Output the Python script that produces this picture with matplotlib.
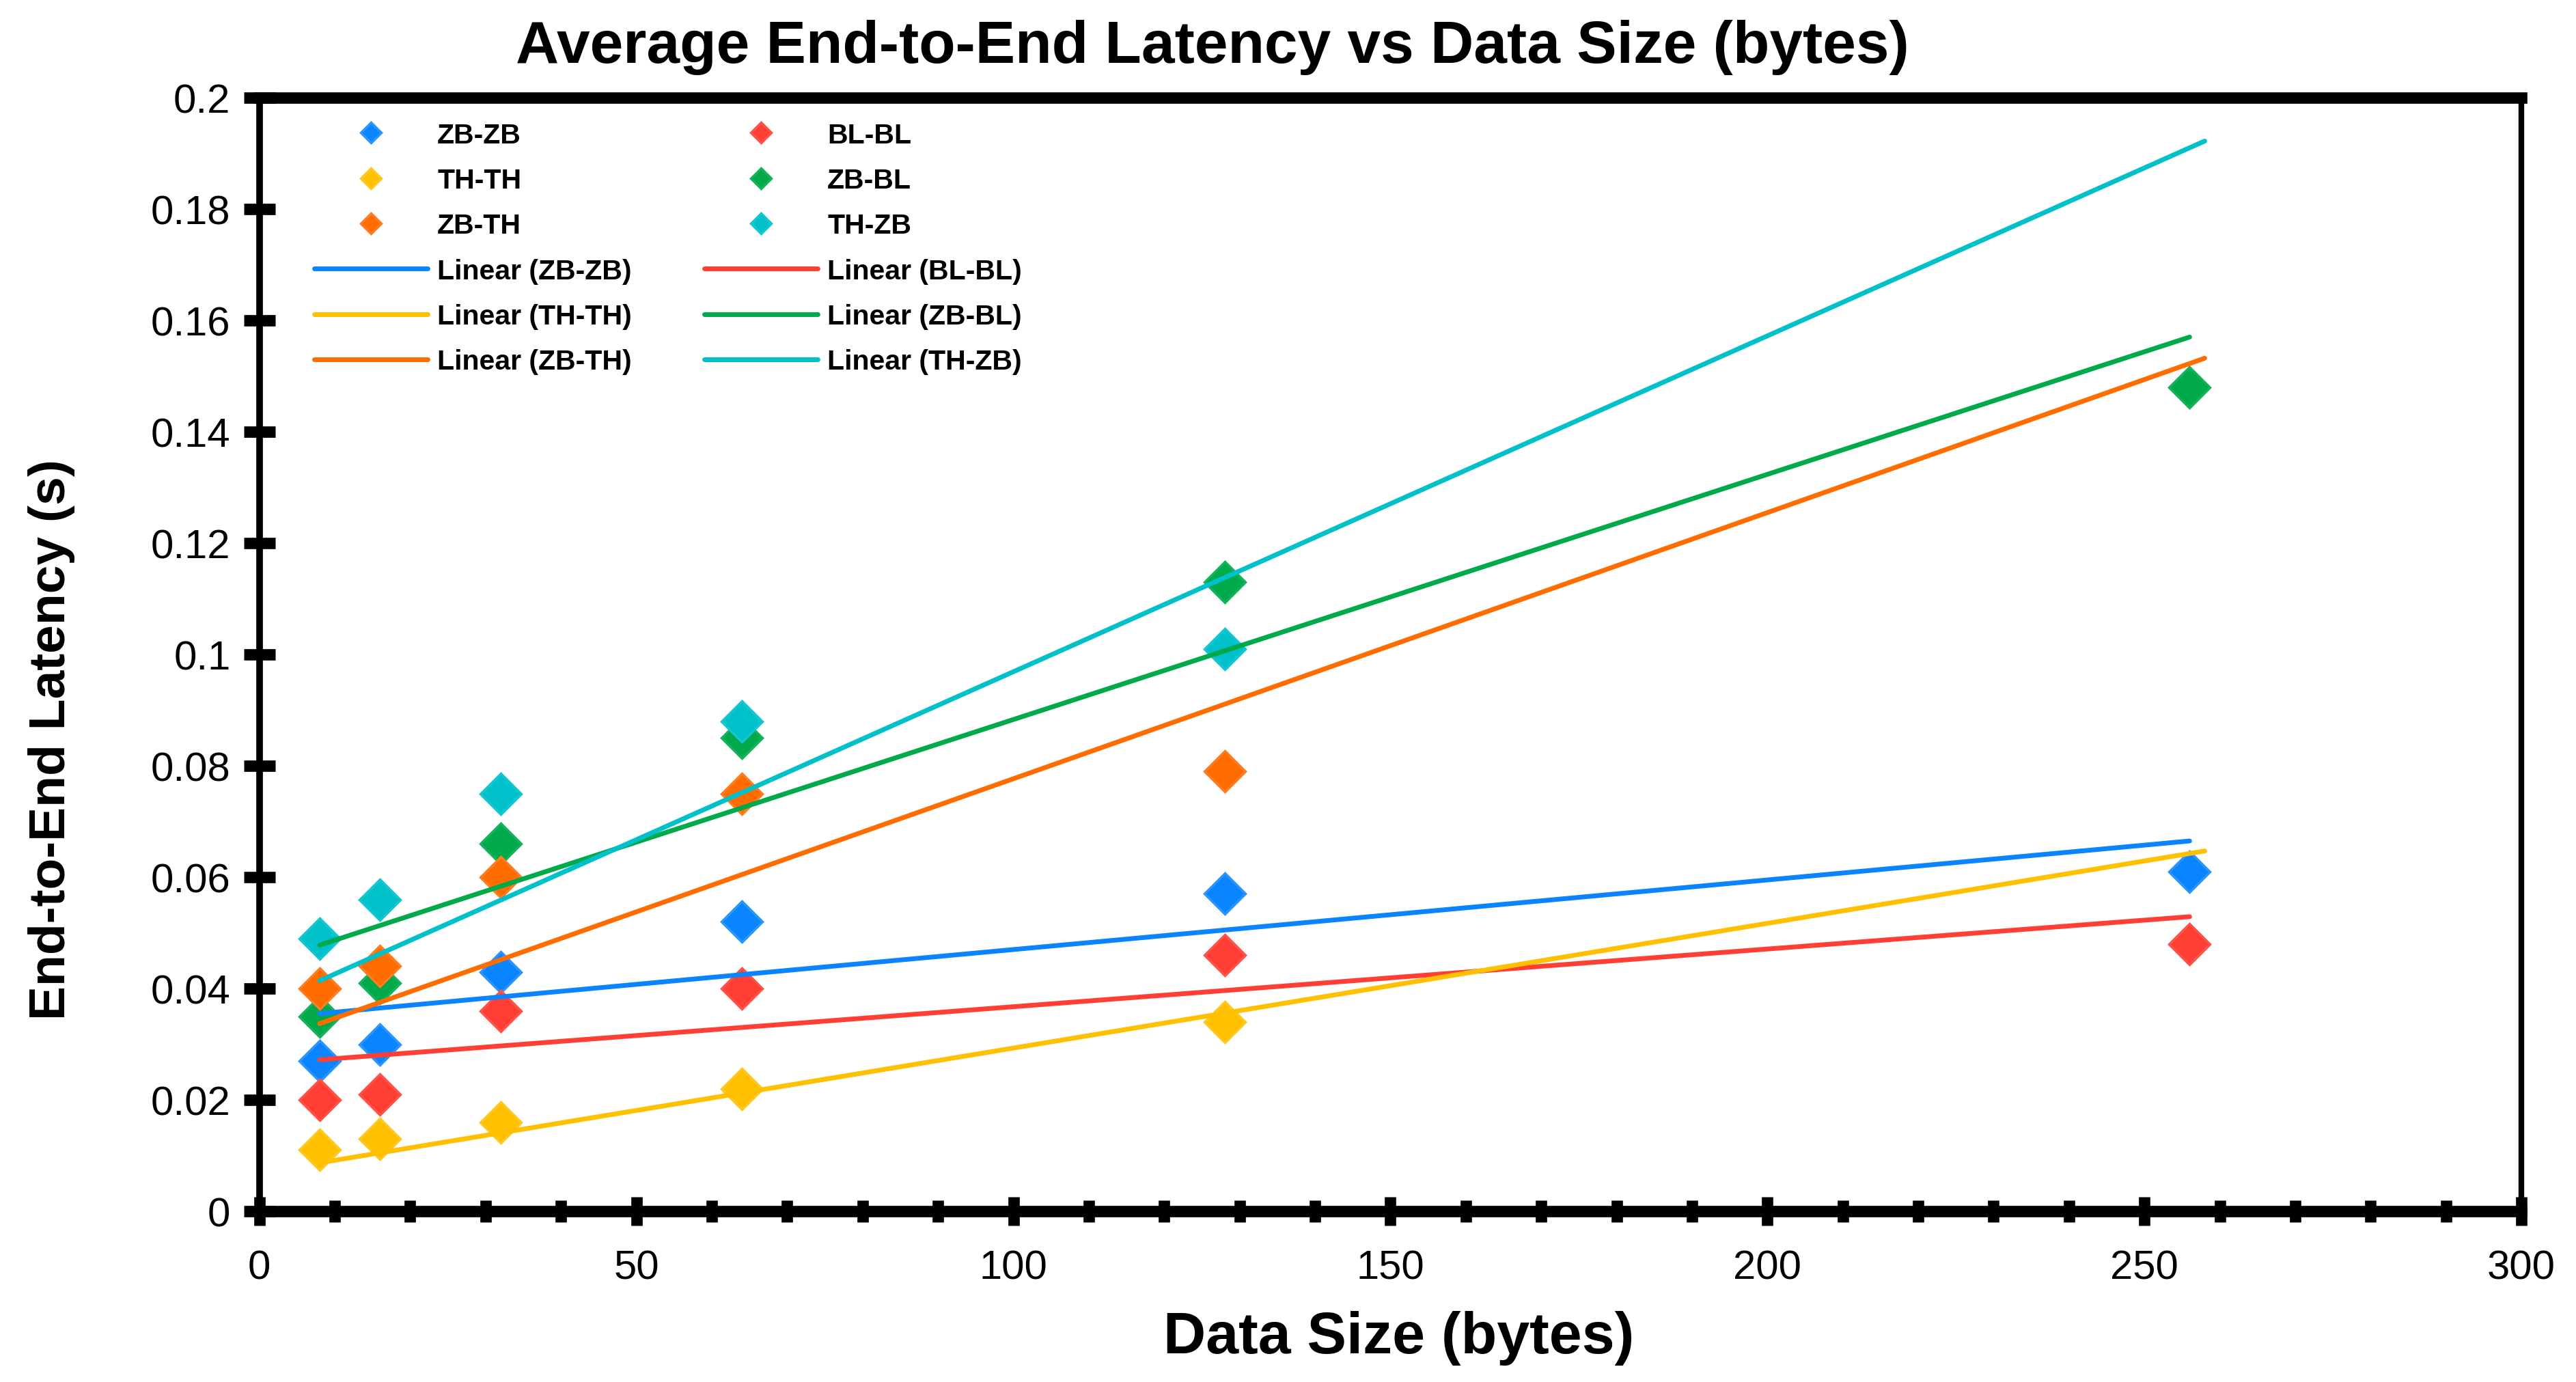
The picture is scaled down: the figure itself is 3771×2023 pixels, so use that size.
import matplotlib.pyplot as plt
from matplotlib.ticker import MultipleLocator, FixedLocator, FuncFormatter

plt.rcParams['font.family'] = ['Liberation Sans', 'DejaVu Sans']

# data
data_size = [8, 16, 32, 64, 128, 256]

zb_zb = [0.027, 0.030, 0.043, 0.052, 0.057, 0.061]
th_th = [0.011, 0.013, 0.016, 0.022, 0.034]
zb_th = [0.040, 0.044, 0.060, 0.075, 0.079]
bl_bl = [0.020, 0.021, 0.036, 0.040, 0.046, 0.048]
zb_bl = [0.035, 0.041, 0.066, 0.085, 0.113, 0.148]
th_zb = [0.049, 0.056, 0.075, 0.088, 0.101]

# linear trendlines (start / end as drawn)
names = ['ZB-ZB', 'TH-TH', 'ZB-TH', 'BL-BL', 'ZB-BL', 'TH-ZB']
trend_x0 = [8, 8, 8, 8, 8, 8]
trend_x1 = [256, 258, 258, 256, 256, 258]
trend_y0 = [0.0355, 0.0087, 0.0337, 0.0272, 0.0478, 0.0414]
trend_y1 = [0.0665, 0.0647, 0.1532, 0.0529, 0.1570, 0.1922]

y_ticks = [0, 0.02, 0.04, 0.06, 0.08, 0.1, 0.12, 0.14, 0.16, 0.18, 0.2]

colors = {
    'ZB-ZB': '#0A84FF',
    'TH-TH': '#FFC000',
    'ZB-TH': '#FF6D00',
    'BL-BL': '#FF3F33',
    'ZB-BL': '#00AA4A',
    'TH-ZB': '#00C0CA',
}
edges = {
    'ZB-ZB': '#2A95FF',
    'TH-TH': '#FFC81E',
    'ZB-TH': '#FF7D1E',
    'BL-BL': '#FF5247',
    'ZB-BL': '#14B25A',
    'TH-ZB': '#14C6CF',
}

series = {
    'ZB-ZB': (data_size, zb_zb),
    'TH-TH': (data_size[:5], th_th),
    'ZB-TH': (data_size[:5], zb_th),
    'BL-BL': (data_size, bl_bl),
    'ZB-BL': (data_size, zb_bl),
    'TH-ZB': (data_size[:5], th_zb),
}

fig = plt.figure(figsize=(37.71, 20.24), dpi=100)
ax = fig.add_axes([0.1007, 0.1235, 0.8781, 0.8054])

marks = {}
for name in ['ZB-BL', 'ZB-ZB', 'BL-BL', 'ZB-TH', 'TH-ZB', 'TH-TH']:
    xs, ys = series[name]
    marks[name], = ax.plot(xs, ys, 'D', linestyle='none', ms=31,
                           color=colors[name], mec=edges[name], mew=2.5,
                           label=name, zorder=3)

lines = {}
for name in ['ZB-ZB', 'BL-BL', 'TH-TH', 'ZB-BL', 'ZB-TH', 'TH-ZB']:
    i = names.index(name)
    lines[name], = ax.plot([trend_x0[i], trend_x1[i]], [trend_y0[i], trend_y1[i]],
                           color=colors[name], lw=5, solid_capstyle='round',
                           label='Linear (%s)' % name, zorder=4)

ax.set_xlim(0, 300)
ax.set_ylim(0, 0.2)
ax.xaxis.set_major_locator(MultipleLocator(50))
ax.xaxis.set_minor_locator(MultipleLocator(10))
ax.yaxis.set_major_locator(FixedLocator(y_ticks))
ax.yaxis.set_major_formatter(FuncFormatter(lambda v, p: '%g' % v))

ax.tick_params(axis='x', which='major', direction='inout', length=30, width=12,
               labelsize=43, pad=25)
ax.tick_params(axis='x', which='minor', direction='inout', length=23, width=12)
ax.tick_params(axis='y', which='major', direction='inout', length=33, width=12,
               labelsize=43, pad=14)

ax.spines['top'].set_linewidth(12)
ax.spines['bottom'].set_linewidth(12)
ax.spines['left'].set_linewidth(7)
ax.spines['right'].set_linewidth(6)

ax.set_xlabel('Data Size (bytes)', fontsize=62, fontweight='bold')
ax.xaxis.set_label_coords(0.5036, -0.089)
ax.set_ylabel('End-to-End Latency (s)', fontsize=54, fontweight='bold')
ax.yaxis.set_label_coords(-0.0815, 0.424)

fig.text(0.4707, 0.9545, 'Average End-to-End Latency vs Data Size (bytes)',
         fontsize=63, fontweight='bold', ha='center', va='baseline')

order = ['ZB-ZB', 'TH-TH', 'ZB-TH']
order2 = ['BL-BL', 'ZB-BL', 'TH-ZB']
handles = [marks[n] for n in order] + [lines[n] for n in order] + \
          [marks[n] for n in order2] + [lines[n] for n in order2]
leg = ax.legend(handles=handles, labels=[h.get_label() for h in handles],
                ncol=2, loc='upper left', bbox_to_anchor=(0.0243, 0.978),
                frameon=False, markerscale=0.5, numpoints=1,
                handlelength=4.05, handletextpad=0.34, columnspacing=2.6,
                labelspacing=0.69, borderaxespad=0, borderpad=0,
                prop={'weight': 'bold', 'size': 29.5})

fig.savefig('out.png', dpi=100)
